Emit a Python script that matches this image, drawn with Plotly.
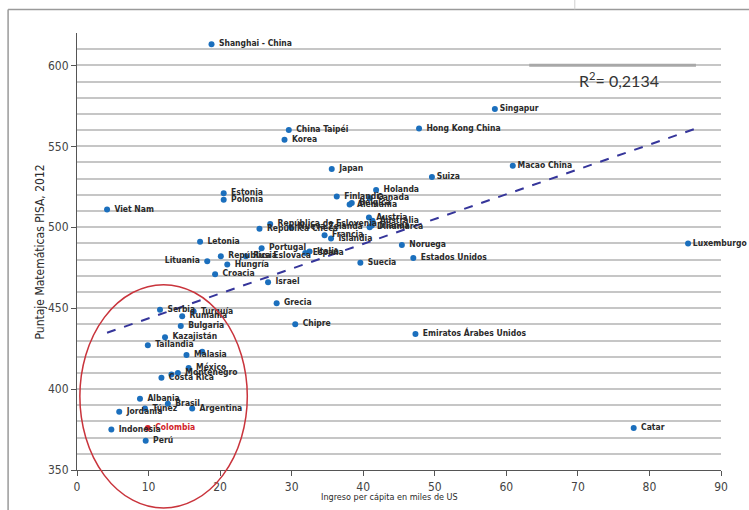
import plotly.graph_objects as go

# ---- data ----
countries = ["Shanghai - China", "Singapur", "Hong Kong China", "China Taipéi", "Korea",
             "Macao China", "Japan", "Suiza", "Holanda", "Estonia", "Finlandia", "Canada",
             "Polonia", "Bélgica", "Alemania", "Viet Nam", "Austria", "Australia",
             "República de Eslovenia", "Irlanda", "Dinamarca", "Nueva Zelanda",
             "República Checa", "Francia", "Islandia", "Letonia", "Luxemburgo", "Noruega",
             "Portugal", "Italia", "España", "República Eslovaca", "Rusia", "Estados Unidos",
             "Lituania", "Suecia", "Hungría", "Croacia", "Israel", "Grecia", "Serbia",
             "Turquía", "Rumania", "Chipre", "Bulgaria", "Emiratos Árabes Unidos",
             "Kazajistán", "Tailandia", "Chile", "Malasia", "México", "Uruguay", "Montenegro",
             "Costa Rica", "Albania", "Brasil", "Argentina", "Túnez", "Jordania", "Colombia",
             "Catar", "Indonesia", "Perú"]
income = [18.8, 58.4, 47.8, 29.6, 29.0,
          60.9, 35.6, 49.6, 41.8, 20.5, 36.3, 40.9,
          20.5, 38.4, 38.1, 4.2, 40.8, 41.3,
          27.0, 41.2, 40.9, 29.9,
          25.5, 34.6, 35.5, 17.2, 85.4, 45.4,
          25.8, 32.5, 31.9, 20.1, 23.6, 47.0,
          18.2, 39.6, 21.0, 19.3, 26.7, 27.9, 11.6,
          16.3, 14.7, 30.5, 14.5, 47.3,
          12.3, 9.9, 17.5, 15.3, 15.6, 13.2, 14.1,
          11.8, 8.8, 12.7, 16.1, 9.5, 5.9, 9.9,
          77.8, 4.8, 9.6]
pisa = [613, 573, 561, 560, 554,
        538, 536, 531, 523, 521, 519, 518,
        517, 515, 514, 511, 506, 504,
        502, 501, 500, 500,
        499, 495, 493, 491, 490, 489,
        487, 485, 484, 482, 482, 481,
        479, 478, 477, 471, 466, 453, 449,
        448, 445, 440, 439, 434,
        432, 427, 423, 421, 413, 409, 410,
        407, 394, 391, 388, 388, 386, 376,
        376, 375, 368]
unlabeled = {"Chile", "Uruguay"}
left_labels = {"Lituania"}
tight_labels = {"Luxemburgo", "Singapur", "Macao China", "Suiza"}
highlight = "Colombia"

trend_x = [4.2, 86.5]
trend_y = [434.8, 561.0]
r2_text = "R<sup>2</sup>= 0,2134"

x_ticks = [0, 10, 20, 30, 40, 50, 60, 70, 80, 90]
y_ticks = [350, 400, 450, 500, 550, 600]
x_range = [0, 90]
y_range = [350, 620]

# ellipse around Latin-America group (data units)
ell_x = [0.4, 23.8]
ell_y = [326.5, 464.5]

FONT = "DejaVu Sans Condensed, Liberation Sans Narrow, sans-serif"
BLUE = "#1b6fbd"
RED = "#d2232a"
TXT = "#2a2a2a"

fig = go.Figure()
fig.add_trace(go.Scatter(
    x=trend_x, y=trend_y, mode="lines",
    line=dict(color="#35359a", width=2, dash="dash"),
    hoverinfo="skip", showlegend=False))

# unlabeled points
ux = [x for c, x in zip(countries, income) if c in unlabeled]
uy = [y for c, y in zip(countries, pisa) if c in unlabeled]
fig.add_trace(go.Scatter(x=ux, y=uy, mode="markers",
                         marker=dict(color=BLUE, size=6), showlegend=False))

# labelled points
lab = [(c, x, y) for c, x, y in zip(countries, income, pisa) if c not in unlabeled]
lx = [t[1] for t in lab]
ly = [t[2] for t in lab]
def fmt(name):
    if name in left_labels:
        return name + " "
    if name in tight_labels:
        return name
    return " " + name
ltext = [fmt(t[0]) for t in lab]
lpos = ["middle left" if t[0] in left_labels else "middle right" for t in lab]
mcol = [RED if t[0] == highlight else BLUE for t in lab]
tcol = [RED if t[0] == highlight else TXT for t in lab]
fig.add_trace(go.Scatter(
    x=lx, y=ly, mode="markers+text",
    text=ltext, textposition=lpos,
    textfont=dict(family=FONT, size=8.5, color=tcol, weight="bold"),
    marker=dict(color=mcol, size=6),
    showlegend=False, cliponaxis=False))

def frac(v, rng):
    return (v - rng[0]) / (rng[1] - rng[0])

fig.add_shape(type="circle", xref="paper", yref="paper",
              x0=frac(ell_x[0], x_range), x1=frac(ell_x[1], x_range),
              y0=frac(ell_y[0], y_range), y1=frac(ell_y[1], y_range),
              line=dict(color="#c9343c", width=1.5))

# gray bar above R2 label
fig.add_shape(type="line", xref="x", yref="y", x0=63.2, x1=86.5, y0=600, y1=600,
              line=dict(color="#a8a8a8", width=3))

# outer frame of the scanned page
fig.add_shape(type="line", xref="paper", yref="paper", x0=-0.107, x1=1.2,
              y0=1.054, y1=1.054, line=dict(color="#9a9a9a", width=1.5))
fig.add_shape(type="line", xref="paper", yref="paper", x0=-0.107, x1=-0.107,
              y0=-0.2, y1=1.054, line=dict(color="#9a9a9a", width=1.5))
fig.add_shape(type="line", xref="paper", yref="paper", x0=0.773, x1=0.773,
              y0=1.054, y1=1.2, line=dict(color="#cfcfcf", width=1))

fig.add_annotation(x=75.7, y=591, xref="x", yref="y", text=r2_text, showarrow=False,
                   xanchor="center", yanchor="middle",
                   font=dict(family="Lato, sans-serif", size=16, color="#333333"))

fig.add_annotation(x=-0.0575, y=0.5, xref="paper", yref="paper",
                   xanchor="center", yanchor="middle",
                   text="Puntaje Matemáticas PISA, 2012", textangle=-90, showarrow=False,
                   font=dict(family=FONT, size=12, color=TXT))
fig.add_annotation(x=0.485, y=-0.062, xref="paper", yref="paper",
                   xanchor="center", yanchor="middle",
                   text="Ingreso per cápita en miles de US", showarrow=False,
                   font=dict(family=FONT, size=9, color=TXT))

fig.update_layout(
    width=749, height=510,
    margin=dict(l=77, r=28, t=33, b=40),
    paper_bgcolor="white", plot_bgcolor="white",
    xaxis=dict(range=x_range, tickvals=x_ticks, showgrid=False, zeroline=False,
               showline=True, linecolor="#555555", linewidth=1.2,
               ticks="outside", ticklen=5, tickcolor="#555555",
               tickfont=dict(family=FONT, size=12, color="#444444")),
    yaxis=dict(range=y_range, tickvals=y_ticks, showgrid=True, gridcolor="#c6c6c6",
               gridwidth=1.5, zeroline=False,
               showline=True, linecolor="#555555", linewidth=1.2,
               ticks="outside", ticklen=5, tickcolor="#555555",
               tickfont=dict(family=FONT, size=12, color="#444444"),
               minor=dict(dtick=10, showgrid=True, gridcolor="#c6c6c6", gridwidth=1.5)),
)

fig.write_html("out.html", config={"displayModeBar": False},
               post_script="document.body.style.margin='0';")
